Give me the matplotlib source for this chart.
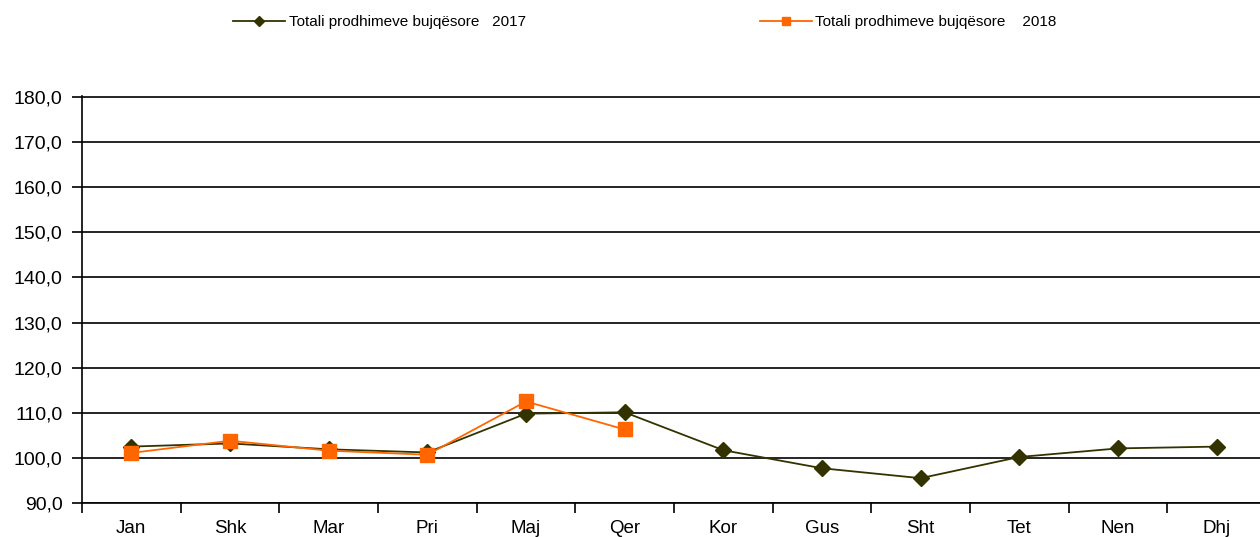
import numpy as np
import matplotlib.pyplot as plt
from matplotlib.ticker import FuncFormatter, FixedLocator

plt.rcParams['font.family'] = ['Liberation Sans', 'DejaVu Sans']

# Muajt dhe vlerat (indeksi i prodhimeve bujqesore)
months = ["Jan", "Shk", "Mar", "Pri", "Maj", "Qer",
          "Kor", "Gus", "Sht", "Tet", "Nen", "Dhj"]
vals_2017 = [102.5, 103.2, 101.9, 101.2, 109.8, 110.1,
             101.7, 97.7, 95.5, 100.2, 102.1, 102.5]
vals_2018 = [101.1, 103.8, 101.6, 100.7, 112.5, 106.3]
label_2017 = "Totali prodhimeve bujqësore   2017"
label_2018 = "Totali prodhimeve bujqësore    2018"

fig = plt.figure(figsize=(12.6, 5.37), dpi=100)
# zona e grafikut del pak jashte figures ne te djathte (si ne origjinal)
ax = fig.add_axes([82/1260, 34/537, 1184/1260, 407/537])

x = np.arange(len(months))
ax.plot(x, vals_2017, color="#333300", linewidth=1.3, marker="D",
        markersize=8.5, label=label_2017, zorder=3)
ax.plot(np.arange(len(vals_2018)), vals_2018, color="#FF6600", linewidth=1.3,
        marker="s", markersize=10, label=label_2018, zorder=4)

# Boshtet
ax.set_xlim(-0.5, len(months) - 0.5)
ax.set_ylim(90, 180.2)
ax.set_yticks(np.arange(90, 181, 10))
ax.yaxis.set_major_formatter(FuncFormatter(lambda v, p: f"{v:.1f}".replace(".", ",")))
ax.grid(axis="y", color="black", linewidth=1.2)
ax.set_axisbelow(True)

ax.set_xticks(x)
ax.set_xticklabels(months)
ax.xaxis.set_minor_locator(FixedLocator(np.arange(-0.5, len(months), 1)))
ax.tick_params(axis="x", which="major", length=0, pad=12, labelsize=13.5)
ax.tick_params(axis="x", which="minor", length=7, width=1.2, direction="out")
ax.tick_params(axis="y", length=7, width=1.2, direction="out", pad=7, labelsize=14)

for s in ["top", "right"]:
    ax.spines[s].set_visible(False)
for s in ["left", "bottom"]:
    ax.spines[s].set_linewidth(1.2)
    ax.spines[s].set_color("black")

fig.legend(loc="center left", bbox_to_anchor=(227/1260, 1 - 22/537), ncol=2,
           frameon=False, fontsize=11, handlelength=3.4, handletextpad=0.25,
           columnspacing=15.3, markerscale=0.6, borderaxespad=0)

fig.savefig("out.png", dpi=100)
